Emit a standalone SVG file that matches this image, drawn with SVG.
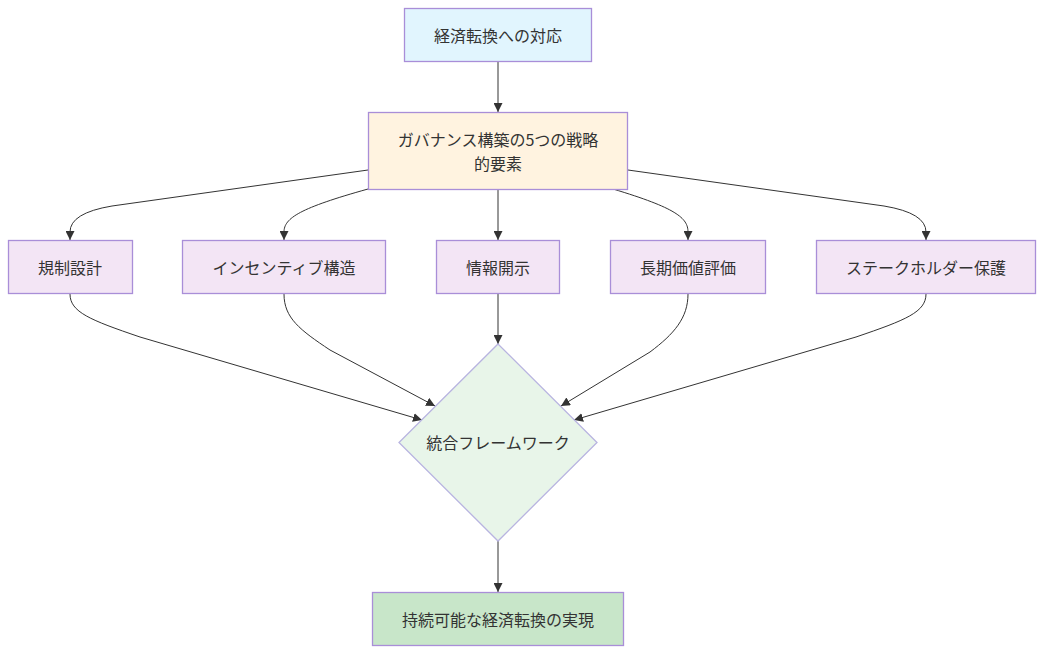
<svg xmlns="http://www.w3.org/2000/svg" width="1044" height="654" viewBox="0 0 1044 654">
<defs>
<marker id="arrow" viewBox="0 0 10 10" refX="10" refY="5" markerWidth="9" markerHeight="9" markerUnits="userSpaceOnUse" orient="auto">
<path d="M0,0 L10,5 L0,10 z" fill="#333"/>
</marker>
<style>
.node rect, .node polygon { stroke: #a98ed8; stroke-width: 1.3; }
.lbl { font-family: "Noto Sans CJK JP", "Noto Sans", sans-serif; font-size: 16px; fill: #333; text-anchor: middle; dominant-baseline: central; }
.edge { fill: none; stroke: #333; stroke-width: 1; marker-end: url(#arrow); }
</style>
</defs>
<rect width="1044" height="654" fill="#ffffff"/>
<g id="connectors">
<path class="edge" d="M498,62 L498,112"/>
<path class="edge" d="M368,170 L112,206 Q70,213 70,232 L70,240"/>
<path class="edge" d="M368,189 C 300,208 284,218 284,232 L284,240"/>
<path class="edge" d="M498,189 L498,240"/>
<path class="edge" d="M613,189 C 676,208 688,218 688,232 L688,240"/>
<path class="edge" d="M628,170 L884,206 Q926,213 926,232 L926,240"/>
<path class="edge" d="M70,294 C 70,312 90,320 140,337 L422,420"/>
<path class="edge" d="M284,294 C 284,318 300,330 330,350 L435,406"/>
<path class="edge" d="M498,294 L498,344"/>
<path class="edge" d="M688,294 C 688,318 674,334 650,352 L561,406"/>
<path class="edge" d="M926,294 C 926,312 906,320 856,337 L574,420"/>
<path class="edge" d="M498,541 L498,592"/>
</g>
<g id="n1" class="node">
<rect x="404.5" y="8.5" width="187" height="53" fill="#e1f5fe"/>
<text class="lbl" x="498" y="35">経済転換への対応</text>
</g>
<g id="n2" class="node">
<rect x="368.5" y="112.5" width="259" height="77" fill="#fff3e0"/>
<text class="lbl" x="498" y="139">ガバナンス構築の5つの戦略</text>
<text class="lbl" x="498" y="163">的要素</text>
</g>
<g id="n3" class="node">
<rect x="8.5" y="240.5" width="124" height="53" fill="#f3e5f5"/>
<text class="lbl" x="70" y="267">規制設計</text>
</g>
<g id="n4" class="node">
<rect x="182.5" y="240.5" width="203" height="53" fill="#f3e5f5"/>
<text class="lbl" x="284" y="267">インセンティブ構造</text>
</g>
<g id="n5" class="node">
<rect x="436.5" y="240.5" width="123" height="53" fill="#f3e5f5"/>
<text class="lbl" x="498" y="267">情報開示</text>
</g>
<g id="n6" class="node">
<rect x="610.5" y="240.5" width="155" height="53" fill="#f3e5f5"/>
<text class="lbl" x="688" y="267">長期価値評価</text>
</g>
<g id="n7" class="node">
<rect x="816.5" y="240.5" width="219" height="53" fill="#f3e5f5"/>
<text class="lbl" x="926" y="267">ステークホルダー保護</text>
</g>
<g id="n8" class="node">
<polygon points="498,344 597,442.5 498,541 399,442.5" fill="#e8f5e9" style="stroke:#b8b4e0"/>
<text class="lbl" x="498" y="442">統合フレームワーク</text>
</g>
<g id="n9" class="node">
<rect x="372.5" y="592.5" width="251" height="53" fill="#c8e6c9"/>
<text class="lbl" x="498" y="619">持続可能な経済転換の実現</text>
</g>
</svg>
